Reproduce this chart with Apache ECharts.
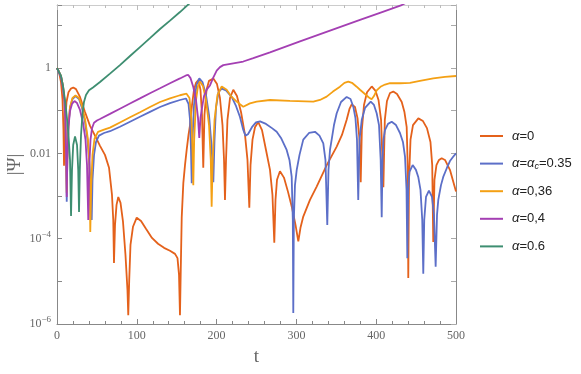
<!DOCTYPE html>
<html><head><meta charset="utf-8">
<script src="https://cdn.jsdelivr.net/npm/echarts@6/dist/echarts.min.js"></script>
<style>html,body{margin:0;padding:0;background:#fff}#c{width:581px;height:374px}</style>
</head><body><div id="c"></div>
<script>
// ---------- data ----------
const seriesNames = ['α=0', 'α=αc=0.35', 'α=0,36', 'α=0,4', 'α=0.6'];

// alpha = 0
const t_a0 = [0,2.5,5.0,6.9,8.1,8.8,10.0,11.9,14.4,17.5,20.4,23.8,28.8,35.1,41.4,47.6,53.9,60.1,65.2,68.9,70.5,71.4,72.7,74.6,76.8,79.6,82.7,85.8,88.3,89.3,90.5,92.1,95.2,99.9,105.3,111.5,119.0,126.6,134.1,141.6,147.9,151.0,152.9,154.1,155.1,156.3,158.3,160.4,162.5,164.8,166.7,169.2,171.7,174.2,177.1,179.8,181.7,183.3,184.8,187.4,190.5,195.9,200.5,204.2,207.4,209.3,210.5,211.8,213.6,216.8,220.9,225.5,230.6,235.6,238.7,241.0,242.5,245.0,248.1,252.2,256.9,261.9,266.9,270.0,272.3,273.8,275.7,279.4,284.4,289.5,294.5,298.9,302.4,305.1,308.6,317.0,325.4,338.0,350.5,357.1,363.0,366.5,369.3,373.4,376.6,379.1,380.6,382.0,384.7,388.5,394.4,399.2,402.9,406.1,409.0,410.8,413.5,417.3,421.4,426.1,432.0,435.4,438.2,439.6,440.2,441.1,443.0,446.1,452.8,458.6,463.6,468.0,470.2,471.5,473.0,475.5,478.7,482.0,486.2,492.4,500];
const psi_a0 = [1,0.81,0.47,0.18,0.035,0.0051,0.046,0.16,0.27,0.33,0.35,0.32,0.21,0.093,0.044,0.026,0.015,0.0092,0.0046,0.00106,2.75e-4,2.7e-5,2.1e-4,6.2e-4,9.5e-4,6.9e-4,2.5e-4,4.2e-5,6.3e-6,1.6e-6,1.08e-5,7.2e-5,1.9e-4,3.1e-4,2.6e-4,1.7e-4,1.04e-4,7.6e-5,6.1e-5,5.2e-5,4.4e-5,3.5e-5,1.42e-5,1.6e-6,1.86e-5,3.2e-4,0.0020,0.0053,0.012,0.027,0.046,0.136,0.31,0.45,0.52,0.31,0.079,0.0046,0.079,0.31,0.50,0.57,0.42,0.198,0.046,0.0070,8.1e-4,0.0070,0.061,0.198,0.31,0.22,0.093,0.027,0.0070,5.3e-4,0.0053,0.021,0.041,0.054,0.035,0.012,0.0041,0.00106,8.0e-5,8.1e-4,0.0024,0.0038,0.0027,0.00125,5.3e-4,2.1e-4,8.6e-5,1.8e-4,3.3e-4,8.1e-4,0.00166,0.0053,0.0144,0.027,0.061,0.11,0.14,0.122,0.067,0.021,0.0021,0.035,0.136,0.27,0.37,0.29,0.178,0.061,0.0016,0.061,0.169,0.26,0.28,0.246,0.16,0.093,0.041,0.0041,1.2e-5,0.0024,0.021,0.046,0.066,0.057,0.039,0.0185,0.0053,8.4e-5,0.0024,0.0053,0.0070,0.0077,0.0070,0.0041,0.00127];

// alpha = alpha_c = 0.35
const t_ac = [0,2.5,5.0,7.5,9.4,10.7,11.5,12.2,12.9,14.4,16.3,19.4,23.2,27.6,31.3,35.1,38.2,40.7,42.6,43.5,44.5,46.4,48.9,52.6,58.9,66.4,78.9,91.5,104.0,116.5,129.1,141.6,154.1,161.6,164.8,166.7,167.9,168.8,169.8,171.7,174.8,178.3,182.3,186.7,190.5,193.6,195.9,197.4,199.2,202.3,206.4,211.8,218.9,224.3,229.3,233.1,236.2,239.3,244.3,249.3,254.4,261.9,269.4,275.3,280.7,287.8,291.3,294.1,295.5,296.1,296.8,298.2,300.4,303.9,308.6,315.8,323.3,328.9,333.7,336.4,338.7,340.2,342.1,344.2,347.1,350.5,355.9,363.0,367.8,371.3,374.0,375.9,377.5,379.1,381.9,386.0,393.1,397.2,400.6,403.5,405.6,406.9,407.9,409.1,411.0,414.8,419.4,424.8,429.8,433.5,436.1,438.0,439.0,440.1,441.7,445.7,449.8,452.7,455.5,457.7,459.0,460.2,462.4,466.1,469.9,472.4,474.5,476.2,477.8,481.2,484.0,488.7,492.4,496.2,500];
const psi_ac = [1,0.90,0.65,0.38,0.178,0.046,0.0070,7.3e-4,0.0070,0.046,0.116,0.188,0.22,0.188,0.116,0.054,0.021,0.0053,0.00139,2.75e-4,0.0024,0.0092,0.0185,0.026,0.030,0.033,0.042,0.055,0.072,0.094,0.122,0.151,0.178,0.193,0.144,0.061,0.012,0.0020,0.021,0.136,0.40,0.57,0.47,0.234,0.079,0.0157,0.0021,0.021,0.116,0.27,0.33,0.30,0.21,0.129,0.071,0.037,0.026,0.028,0.041,0.053,0.056,0.049,0.039,0.032,0.023,0.012,0.0070,0.0028,2.75e-4,1.8e-6,2.75e-4,0.0018,0.0041,0.0092,0.021,0.030,0.032,0.026,0.0172,0.0070,2.1e-4,0.0041,0.012,0.021,0.046,0.087,0.16,0.21,0.188,0.124,0.067,0.021,8.1e-4,0.021,0.061,0.116,0.163,0.136,0.087,0.046,0.0070,3.2e-4,0.0070,0.021,0.035,0.049,0.055,0.046,0.030,0.0185,0.0084,0.00139,3.5e-5,0.00139,0.0037,0.0053,0.0041,0.0028,0.00139,2.75e-4,1.5e-5,2.75e-4,9.5e-4,0.00134,9.5e-4,3.6e-4,2.2e-5,3.6e-4,8.1e-4,0.0018,0.0028,0.0046,0.0066,0.0082,0.010];

// alpha = 0,36
const t_a36 = [0,2.5,5.0,7.5,9.4,10.7,11.5,12.2,12.9,14.4,16.3,19.4,23.2,27.6,31.3,35.1,38.8,40.7,41.7,42.9,44.5,47.0,51.4,58.9,66.4,78.9,91.5,104.0,116.5,129.1,141.6,154.1,162.3,166.0,168.5,169.8,170.8,171.9,174.2,176.7,179.2,182.9,186.7,190.5,192.7,193.8,195.1,197.4,201.1,206.4,212.6,218.0,225.2,233.4,241.8,250.2,266.9,291.9,321.2,329.5,337.9,345.8,354.6,360.2,365.0,369.6,375.5,379.7,385.9,390.9,394.3,397.2,400.6,406.0,411.0,417.3,429.8,442.3,454.8,471.5,486.2,500];
const psi_a36 = [1,0.90,0.65,0.38,0.178,0.046,0.0070,0.0012,0.0070,0.049,0.122,0.198,0.227,0.198,0.129,0.064,0.021,0.0053,1.44e-4,0.0018,0.0092,0.022,0.032,0.036,0.040,0.053,0.070,0.092,0.122,0.16,0.195,0.23,0.25,0.198,0.061,0.012,0.0018,0.021,0.178,0.38,0.48,0.38,0.178,0.046,0.0070,5.6e-4,0.0070,0.061,0.233,0.37,0.31,0.22,0.163,0.124,0.148,0.163,0.178,0.169,0.163,0.178,0.213,0.28,0.365,0.45,0.48,0.45,0.365,0.31,0.246,0.204,0.185,0.22,0.30,0.37,0.41,0.44,0.44,0.45,0.50,0.57,0.62,0.65];

// alpha = 0,4
const t_a4 = [0,2.5,5.0,7.5,9.4,10.7,11.5,12.2,12.9,14.4,16.3,18.8,21.9,25.1,28.8,32.6,35.7,37.6,39.2,40.5,42.0,43.9,46.4,50.1,53.9,66.4,78.9,91.5,104.0,116.5,129.1,141.6,154.1,161.6,164.5,167.3,170.8,174.2,176.7,178.3,179.8,181.7,184.2,188.0,191.7,195.5,200.1,204.2,208.4,220.9,233.4,246.0,266.9,304.5,342.1,379.7,404.7,431.9,440];
const psi_a4 = [1,0.90,0.61,0.34,0.16,0.046,0.0070,9.5e-4,0.0070,0.042,0.098,0.144,0.169,0.151,0.104,0.052,0.021,0.0053,2.75e-4,0.0053,0.021,0.039,0.052,0.059,0.064,0.084,0.111,0.147,0.194,0.257,0.335,0.44,0.57,0.67,0.69,0.58,0.36,0.178,0.068,0.023,0.068,0.116,0.22,0.32,0.39,0.58,0.87,1.05,1.17,1.29,1.42,1.71,2.33,4.2,7.5,13.4,19.7,29.9,36];

// alpha = 0.6
const t_a6 = [0,2.5,5.0,7.5,10.0,12.5,14.4,16.3,17.6,18.8,20.3,22.6,25.1,26.6,27.6,28.6,30.1,32.0,33.8,36.3,40.1,45.1,53.9,66.4,78.9,91.5,104.0,116.5,129.1,141.6,154.1,161.6,169.2];
const psi_a6 = [1,0.90,0.65,0.38,0.178,0.067,0.027,0.0070,3.4e-4,0.0041,0.0157,0.025,0.0157,0.0041,4.2e-4,0.0041,0.027,0.088,0.16,0.233,0.30,0.35,0.47,0.74,1.17,1.91,3.1,5.0,8.2,12.9,20.5,27.5,37];

// axis ticks / labels
const xTickValues = [0, 100, 200, 300, 400, 500];
const yTickValues = [1e-6, 1e-4, 1e-2, 1];
const yTickBase = ['10', '10', '0.01', '1'];
const yTickExp = ['−6', '−4', '', ''];

// ---------- chart ----------
const colors = ['#E4611B', '#5C6FC8', '#F4A014', '#A43FB3', '#3E8E71'];
const tArrays = [t_a0, t_ac, t_a36, t_a4, t_a6];
const psiArrays = [psi_a0, psi_ac, psi_a36, psi_a4, psi_a6];

const series = seriesNames.map((name, k) => ({
  name: name,
  type: 'line',
  data: tArrays[k].map((t, i) => [t, psiArrays[k][i]]),
  showSymbol: false,
  symbol: 'none',
  smooth: false,
  clip: true,
  lineStyle: { color: colors[k], width: 1.8 },
  itemStyle: { color: colors[k] },
  xAxisIndex: 0,
  yAxisIndex: 0,
  z: 2 + k
}));

function yLabel(v) {
  const e = Math.log10(v);
  for (let i = 0; i < yTickValues.length; i++) {
    if (Math.abs(Math.log10(yTickValues[i]) - e) < 1e-6) {
      return yTickExp[i] ? yTickBase[i] + '{sup|' + yTickExp[i] + '}' : yTickBase[i];
    }
  }
  return '';
}

const serif = 'Liberation Serif';
const tickColor = '#888';
const labelColor = '#666';

const chart = echarts.init(document.getElementById('c'), null, { renderer: 'canvas' });
chart.setOption({
  animation: false,
  backgroundColor: '#fff',
  grid: { left: 57, right: 125, top: 5, bottom: 50, containLabel: false, outerBoundsMode: 'none' },
  legend: {
    orient: 'vertical', left: 475, top: 123,
    icon: 'rect', itemWidth: 23, itemHeight: 2, itemGap: 11.6,
    data: seriesNames,
    formatter: function (name) {
      if (name === 'α=αc=0.35') return '{i|α}{n|=}{i|α}{s|c}{n|=0.35}';
      return '{i|α}{n|' + name.slice(1) + '}';
    },
    textStyle: {
      padding: [0, 0, 0, 4],
      rich: {
        n: { fontFamily: 'Liberation Sans', fontSize: 13, color: '#222', height: 16, lineHeight: 16 },
        i: { fontFamily: 'Liberation Sans', fontStyle: 'italic', fontSize: 13, color: '#222', height: 16, lineHeight: 16 },
        s: { fontFamily: 'Liberation Sans', fontStyle: 'italic', fontSize: 9, color: '#222', lineHeight: 16, padding: [6, 0, 0, 0] }
      }
    }
  },
  xAxis: [{
    type: 'value', min: 0, max: 500, interval: 100, position: 'bottom',
    name: 't', nameLocation: 'middle', nameGap: 24,
    nameTextStyle: { fontFamily: serif, fontSize: 19, color: labelColor },
    axisLine: { onZero: false, lineStyle: { color: tickColor, width: 1 } },
    axisTick: { inside: true, length: 5, lineStyle: { color: tickColor } },
    minorTick: { show: true, splitNumber: 5, length: 3, lineStyle: { color: tickColor } },
    splitLine: { show: false },
    axisLabel: {
      margin: 6, fontFamily: serif, fontSize: 12, color: labelColor,
      formatter: v => (xTickValues.indexOf(v) >= 0 ? String(v) : '')
    }
  }, {
    type: 'value', min: 0, max: 500, interval: 100, position: 'top',
    axisLine: { onZero: false, lineStyle: { color: '#ccc', width: 1 } },
    axisTick: { inside: true, length: 5, lineStyle: { color: '#bbb' } },
    minorTick: { show: true, splitNumber: 5, length: 3, lineStyle: { color: '#bbb' } },
    splitLine: { show: false },
    axisLabel: { show: false }
  }],
  yAxis: [{
    type: 'log', logBase: 10, min: 1e-6, max: 30, position: 'left',
    name: '|Ψ|', nameLocation: 'middle', nameGap: 32, nameMoveOverlap: false,
    nameTextStyle: { fontFamily: serif, fontSize: 19, color: labelColor },
    axisLine: { onZero: false, lineStyle: { color: tickColor, width: 1 } },
    axisTick: { inside: true, length: 5, lineStyle: { color: tickColor } },
    splitLine: { show: false },
    axisLabel: {
      margin: 6, fontFamily: serif, fontSize: 12, color: labelColor,
      formatter: yLabel,
      rich: { sup: { fontFamily: serif, fontSize: 9, color: labelColor, padding: [0, 0, 8, 0] } }
    }
  }, {
    type: 'log', logBase: 10, min: 1e-6, max: 30, position: 'right',
    axisLine: { onZero: false, lineStyle: { color: tickColor, width: 1 } },
    axisTick: { inside: true, length: 5, lineStyle: { color: '#aaa' } },
    splitLine: { show: false },
    axisLabel: { show: false }
  }],
  series: series
});
</script>
</body></html>
